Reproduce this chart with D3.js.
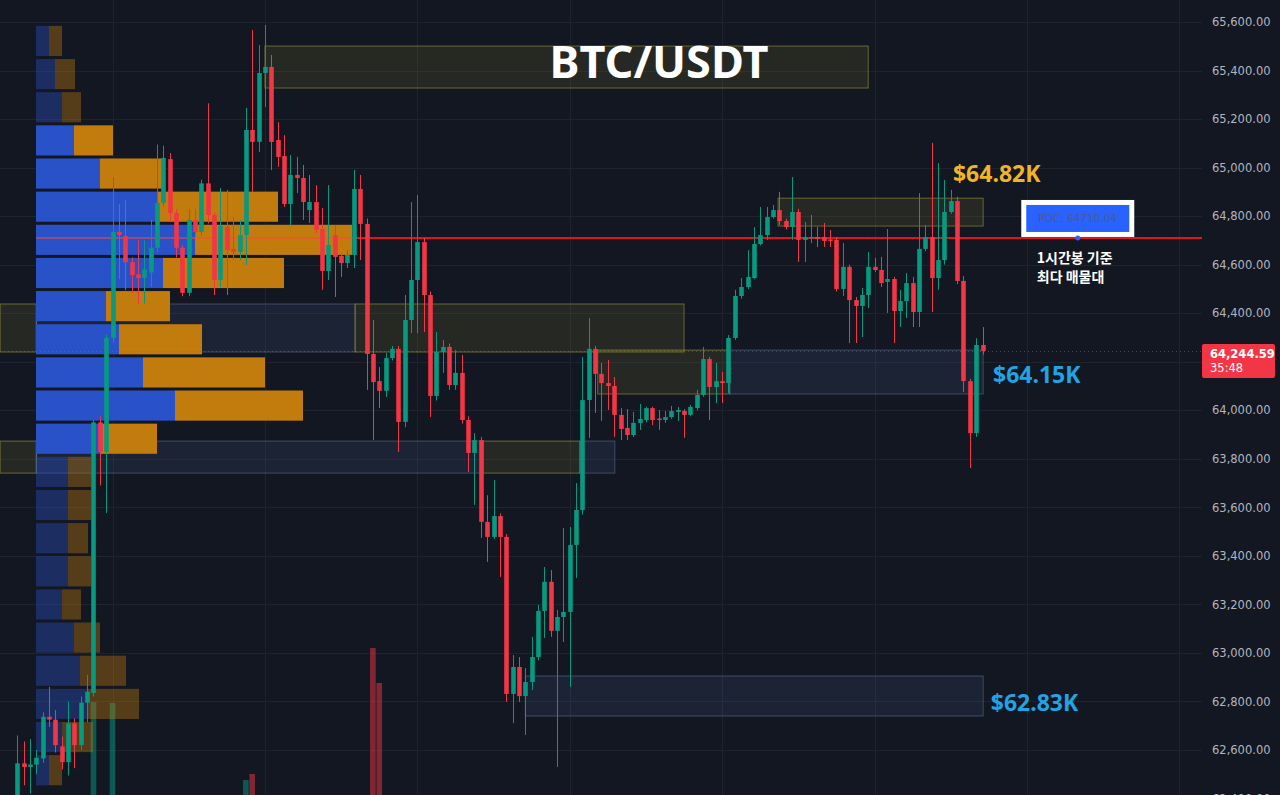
<!DOCTYPE html>
<html>
<head>
<meta charset="utf-8">
<script src="https://d3js.org/d3.v7.min.js"></script>
<style>
  body { margin: 0; background: #131722; }
  svg { display: block; }
  .axis text { font-family: "DejaVu Sans", sans-serif; font-size: 11.5px; fill: #b2b5be; }
  .grid { stroke: #1f2330; stroke-width: 1px; }
  .title { font-family: "Noto Sans", sans-serif; font-weight: 700; font-size: 45px; fill: #fff; }
  .tag { font-family: "Noto Sans", sans-serif; font-weight: 700; font-size: 23px; }
  .note { font-family: "Noto Sans CJK KR", sans-serif; font-weight: 700; font-size: 14px; fill: #fff; }
</style>
</head>
<body>
<svg id="chart"></svg>
<script>
  // 1h candles, BTC/USDT
  var open = [
    62380,62545,62530,62540,62565,62737,62725,62615,62550,62710,
    62620,62795,62835,63950,63828,64298,64735,64718,64610,64560,
    64545,64568,64670,64855,65035,64813,64670,64484,64785,64735,
    64935,64805,64537,64755,64665,64652,64722,65155,65106,65390,
    65415,65114,65048,64850,64970,64957,64825,64858,64747,64574,
    64722,64636,64607,64640,64912,64768,64232,64120,64080,64215,
    64253,63952,64372,64537,64693,64475,64059,64240,64261,64104,
    64154,63960,63824,63877,63540,63478,63564,63478,62831,62942,
    62822,62880,62983,63173,63293,63091,63148,63169,63445,63589,
    64042,64253,64150,64112,64100,63981,63927,63898,63948,63960,
    64009,63966,63960,63972,63993,63997,63981,64009,64063,64211,
    64096,64120,64112,64298,64471,64508,64545,64685,64722,64796,
    64825,64780,64755,64817,64702,64710,64714,64714,64704,64702,
    64500,64591,64454,64430,64475,64591,64578,64529,64541,64409,
    64450,64524,64405,64665,64714,64545,64619,64817,64862,64533,
    64120,63906,64269
  ];
  var high = [
    62660,62635,62645,62600,62755,62860,62765,62655,62800,62730,
    62820,62910,63960,63975,64310,64960,64850,64865,64630,64700,
    64700,64785,65095,65090,65060,64830,64680,64830,64830,64950,
    65265,64815,64916,64908,64796,64784,65246,65567,65505,65588,
    65464,65188,65134,65052,65044,65011,64970,64928,64833,64928,
    64763,64648,64660,64990,64970,64790,64372,64178,64236,64265,
    64265,64475,64858,64887,64710,64490,64322,64290,64275,64248,
    64228,63975,63906,63890,63650,63713,63575,63490,62991,62983,
    62938,63066,63198,63354,63342,63177,63515,63519,63700,64220,
    64380,64265,64195,64207,64137,64009,64005,63993,64026,64015,
    64015,64001,63997,64018,64014,64005,64022,64084,64261,64220,
    64195,64158,64310,64496,64545,64660,64755,64838,64838,64846,
    64900,64790,64961,64830,64776,64805,64755,64772,64743,64714,
    64689,64600,64467,64504,64652,64628,64632,64747,64550,64496,
    64566,64549,64895,64763,65102,65019,64949,64908,64880,64553,
    64130,64297,64343
  ];
  var low = [
    62330,62455,62420,62500,62547,62695,62590,62520,62495,62525,
    62600,62715,62820,63690,63577,64280,64540,64495,64483,64440,
    64440,64508,64650,64840,64775,64630,64470,64470,64715,64720,
    64770,64475,64508,64475,64619,64619,64599,64900,65064,65250,
    64990,65003,64838,64763,64895,64784,64772,64730,64496,64537,
    64467,64549,64586,64586,64619,64084,63877,64009,64055,64205,
    63828,63930,64318,64318,64322,63972,64040,64154,64084,64084,
    63945,63746,63610,63474,63375,63470,63313,62798,62711,62798,
    62662,62847,62970,63062,63066,62530,63045,62860,63309,63570,
    63886,63989,63956,64001,63890,63877,63877,63890,63919,63950,
    63939,63919,63948,63965,63956,63886,63975,64000,64055,63960,
    64030,64030,64071,64290,64460,64500,64540,64680,64702,64790,
    64763,64745,64702,64611,64611,64689,64673,64673,64673,64490,
    64471,64277,64277,64302,64421,64570,64508,64401,64277,64343,
    64380,64343,64343,64655,64405,64496,64600,64810,64520,64075,
    63762,63890,64230
  ];
  var close = [
    62545,62530,62540,62568,62737,62725,62620,62550,62710,62620,
    62795,62840,63950,63828,64298,64735,64722,64610,64557,64545,
    64580,64670,64855,65040,64813,64670,64484,64785,64735,64935,
    64805,64537,64760,64660,64652,64722,65155,65106,65390,65415,
    65106,65044,64850,64970,64957,64858,64858,64743,64574,64681,
    64632,64607,64640,64912,64768,64232,64116,64080,64215,64253,
    63952,64372,64537,64693,64475,64059,64240,64261,64104,64154,
    63960,63824,63877,63540,63478,63564,63478,62831,62942,62822,
    62880,62983,63173,63293,63091,63148,63169,63445,63589,64042,
    64253,64150,64112,64100,63981,63923,63898,63948,63964,64009,
    63960,63962,63972,63997,64001,63981,64014,64063,64211,64096,
    64120,64112,64298,64471,64508,64549,64685,64722,64796,64825,
    64780,64755,64817,64702,64714,64714,64706,64698,64700,64500,
    64591,64454,64430,64475,64591,64578,64524,64541,64409,64450,
    64524,64405,64665,64714,64545,64619,64817,64862,64533,64120,
    63906,64269,64244.59
  ];
  var volume = [
    40,35,30,30,55,40,45,35,50,40,
    55,50,300,170,185,299,120,90,70,60,
    60,70,110,100,95,80,90,100,60,95,
    120,110,90,80,60,60,222,228,190,160,
    170,110,120,100,80,90,70,90,110,90,
    80,50,50,120,100,180,354,319,150,60,
    190,180,120,120,130,170,110,60,90,60,
    100,110,80,150,100,90,110,195,150,120,
    90,100,130,110,100,120,110,140,120,180,
    160,90,60,50,70,60,40,40,35,40,
    40,30,30,35,30,40,35,50,110,90,
    50,40,120,110,60,60,90,80,70,60,
    70,50,90,90,60,40,40,40,30,120,
    90,100,50,70,90,40,60,80,100,60,
    60,80,150,70,180,130,120,80,170,190,
    170,160,60
  ];

  // volume profile, top bin first
  var profileTop = 65584;
  var profileBin = 136.6;
  var profileBuy  = [13,19,26,38,64,121,159,127,70,83,107,139,64,32,32,32,32,26,38,44,51,26,13];
  var profileSell = [13,20,19,39,63,121,157,121,64,83,122,128,57,23,23,20,23,19,26,46,52,31,13];
  var valueArea = [3, 12];

  var poc = 64710.04;
  var lastPrice = 64244.59;
  var countdown = '35:48';
  var priceTicks = [62400,62600,62800,63000,63200,63400,63600,63800,64000,64200,64400,64600,64800,65000,65200,65400,65600];
  var dayBreaks = [15, 39, 63, 87, 111, 135, 159, 183];

  // zones: candle index range and price range
  var zones = [
    {from: 39, to: 134, top: 65501, bottom: 65328, kind: 'y'},
    {from: 119.8, to: 152.1, top: 64874, bottom: 64759, kind: 'y'},
    {from: -2.7, to: 3, top: 64438, bottom: 64240, kind: 'y'},
    {from: 3, to: 53.2, top: 64438, bottom: 64240, kind: 'b'},
    {from: 53.2, to: 105, top: 64438, bottom: 64240, kind: 'y'},
    {from: 91.4, to: 112.2, top: 64248, bottom: 64067, kind: 'y'},
    {from: 112.2, to: 152.1, top: 64248, bottom: 64067, kind: 'b'},
    {from: -2.7, to: 3, top: 63873, bottom: 63741, kind: 'y'},
    {from: 3, to: 73.3, top: 63873, bottom: 63741, kind: 'b'},
    {from: 73.3, to: 88.6, top: 63873, bottom: 63741, kind: 'y'},
    {from: 88.6, to: 94.1, top: 63873, bottom: 63741, kind: 'b'},
    {from: 80, to: 152.1, top: 62905, bottom: 62740, kind: 'b'}
  ];
  var tags = [
    {text: '$64.82K', at: 147.35, price: 64941, color: '#f0b429'},
    {text: '$64.15K', at: 153.65, price: 64112, color: '#22a3e3'},
    {text: '$62.83K', at: 153.3, price: 62761, color: '#22a3e3'}
  ];

  var width = 1280, height = 795, plotRight = 1202;
  var up = '#089981', down = '#f23645';

  var svg = d3.select('#chart').attr('width', width).attr('height', height);
  svg.append('rect').attr('width', width).attr('height', height).attr('fill', '#131722');

  var x = d3.scaleLinear().domain([-2.72, 183.1]).range([0, 1180]);
  var y = d3.scaleLinear().domain([62414.5, 65690.7]).range([height, 0]);
  var yVol = d3.scaleLinear().domain([0, 400]).range([1002, 602]);

  // grid
  svg.append('g').selectAll('line').data(priceTicks).join('line')
    .attr('class', 'grid')
    .attr('x1', 0).attr('x2', plotRight)
    .attr('y1', function(d){ return Math.round(y(d)) + 0.5; })
    .attr('y2', function(d){ return Math.round(y(d)) + 0.5; });
  svg.append('g').selectAll('line').data(dayBreaks).join('line')
    .attr('class', 'grid')
    .attr('y1', 0).attr('y2', height)
    .attr('x1', function(d){ return Math.round(x(d)) + 0.5; })
    .attr('x2', function(d){ return Math.round(x(d)) + 0.5; });

  // zones
  svg.append('g').selectAll('rect').data(zones).join('rect')
    .attr('x', function(d){ return x(d.from); })
    .attr('width', function(d){ return x(d.to) - x(d.from); })
    .attr('y', function(d){ return y(d.top); })
    .attr('height', function(d){ return y(d.bottom) - y(d.top); })
    .attr('fill', function(d){ return d.kind == 'y' ? 'rgba(150,150,40,0.14)' : 'rgba(80,110,165,0.15)'; })
    .attr('stroke', function(d){ return d.kind == 'y' ? 'rgba(200,190,70,0.45)' : 'rgba(110,130,170,0.45)'; })
    .attr('stroke-width', 1);

  var bars = open.map(function(o, i){
    return {i: i, o: o, h: high[i], l: low[i], c: close[i], v: volume[i]};
  });

  // volume histogram (baseline sits below the visible area)
  svg.append('g').selectAll('rect').data(bars).join('rect')
    .attr('x', function(d){ return x(d.i) - 2.8; })
    .attr('width', 5.6)
    .attr('y', function(d){ return yVol(d.v); })
    .attr('height', function(d){ return Math.max(0, yVol(0) - yVol(d.v)); })
    .attr('fill', function(d){ return d.c >= d.o ? 'rgba(8,153,129,0.5)' : 'rgba(242,54,69,0.5)'; });

  // volume profile
  var profile = profileBuy.map(function(b, k){
    var hi = profileTop - k * profileBin;
    return {k: k, buy: b, sell: profileSell[k], hi: hi, lo: hi - profileBin,
            inVA: k >= valueArea[0] && k <= valueArea[1]};
  });
  var xp = d3.scaleLinear()
    .domain([0, d3.max(profile, function(d){ return d.buy + d.sell; })])
    .range([36, 352]);
  var rows = svg.append('g').selectAll('g').data(profile).join('g')
    .attr('opacity', function(d){ return d.inVA ? 1 : 0.38; });
  rows.append('rect')
    .attr('x', xp(0))
    .attr('y', function(d){ return y(d.hi); })
    .attr('width', function(d){ return xp(d.buy) - xp(0); })
    .attr('height', function(d){ return y(d.lo) - y(d.hi) - 3; })
    .attr('fill', '#2952c9');
  rows.append('rect')
    .attr('x', function(d){ return xp(d.buy); })
    .attr('y', function(d){ return y(d.hi); })
    .attr('width', function(d){ return xp(d.buy + d.sell) - xp(d.buy); })
    .attr('height', function(d){ return y(d.lo) - y(d.hi) - 3; })
    .attr('fill', '#c27c0e');

  var pocRow = profile.find(function(d){ return poc <= d.hi && poc > d.lo; });
  var pocEnd = xp(pocRow.buy + pocRow.sell);
  svg.append('line')
    .attr('x1', xp(0)).attr('x2', pocEnd)
    .attr('y1', y(poc)).attr('y2', y(poc))
    .attr('stroke', 'rgba(255,70,60,0.5)').attr('stroke-width', 2);
  svg.append('line')
    .attr('x1', pocEnd).attr('x2', plotRight)
    .attr('y1', y(poc)).attr('y2', y(poc))
    .attr('stroke', '#e3131e').attr('stroke-width', 2);

  // last price line
  svg.append('line')
    .attr('x1', 0).attr('x2', plotRight)
    .attr('y1', Math.round(y(lastPrice)) + 0.5).attr('y2', Math.round(y(lastPrice)) + 0.5)
    .attr('stroke', 'rgba(242,54,69,0.55)').attr('stroke-dasharray', '1 3');

  // candles
  var candle = svg.append('g').selectAll('g').data(bars).join('g');
  candle.append('line')
    .attr('x1', function(d){ return Math.round(x(d.i)) + 0.5; })
    .attr('x2', function(d){ return Math.round(x(d.i)) + 0.5; })
    .attr('y1', function(d){ return y(d.h); })
    .attr('y2', function(d){ return y(d.l); })
    .attr('stroke', function(d){ return d.c >= d.o ? up : down; })
    .attr('stroke-width', 1);
  candle.append('rect')
    .attr('x', function(d){ return Math.round(x(d.i)) - 1.8; })
    .attr('width', 4.6)
    .attr('y', function(d){ return y(Math.max(d.o, d.c)); })
    .attr('height', function(d){ return Math.max(1.5, Math.abs(y(d.o) - y(d.c))); })
    .attr('fill', function(d){ return d.c >= d.o ? up : down; });

  // title
  svg.append('text').attr('class', 'title')
    .attr('x', 659).attr('y', 78).attr('text-anchor', 'middle')
    .text('BTC/USDT');

  // price tags
  svg.append('g').selectAll('text').data(tags).join('text')
    .attr('class', 'tag')
    .attr('x', function(d){ return x(d.at); })
    .attr('y', function(d){ return y(d.price); })
    .attr('fill', function(d){ return d.color; })
    .text(function(d){ return d.text; });

  // POC label
  var pocX = x(167);
  var pocY = y(poc);
  svg.append('rect')
    .attr('x', pocX - 56.5).attr('y', pocY - 38)
    .attr('width', 113).attr('height', 37)
    .attr('fill', '#ffffff');
  svg.append('rect')
    .attr('x', pocX - 51.5).attr('y', pocY - 33)
    .attr('width', 103).attr('height', 27)
    .attr('fill', '#2962ff');
  svg.append('text')
    .attr('x', pocX).attr('y', pocY - 15.5)
    .attr('text-anchor', 'middle')
    .attr('font-family', 'DejaVu Sans, sans-serif').attr('font-size', 10.5)
    .attr('fill', '#4a5c8e')
    .text('POC: ' + d3.format('.2f')(poc));
  svg.append('circle')
    .attr('cx', pocX).attr('cy', pocY).attr('r', 2.5).attr('fill', '#2962ff');

  svg.append('text').attr('class', 'note')
    .attr('x', pocX - 41).attr('y', pocY + 25).text('1시간봉 기준');
  svg.append('text').attr('class', 'note')
    .attr('x', pocX - 41).attr('y', pocY + 44).text('최다 매물대');

  // price axis; the label under the last-price tag is hidden, as on the original
  var ly = y(lastPrice);
  var labelTicks = priceTicks.filter(function(d){ return Math.abs(y(d) - (ly + 10)) > 20; });
  var yAxis = d3.axisRight(y)
    .tickValues(labelTicks)
    .tickFormat(d3.format(',.2f'))
    .tickSize(0)
    .tickPadding(10);
  svg.append('g').attr('class', 'axis')
    .attr('transform', 'translate(' + plotRight + ',0)')
    .call(yAxis)
    .call(function(g){ g.select('.domain').remove(); });

  // last price label
  svg.append('rect')
    .attr('x', plotRight).attr('y', ly - 7)
    .attr('width', 73).attr('height', 34).attr('rx', 2)
    .attr('fill', down);
  svg.append('text')
    .attr('x', plotRight + 8).attr('y', ly + 7)
    .attr('font-family', 'DejaVu Sans, sans-serif').attr('font-size', 11.5)
    .attr('font-weight', 700).attr('fill', '#fff')
    .text(d3.format(',.2f')(lastPrice));
  svg.append('text')
    .attr('x', plotRight + 8).attr('y', ly + 21)
    .attr('font-family', 'DejaVu Sans, sans-serif').attr('font-size', 11.5)
    .attr('fill', '#fff')
    .text(countdown);
</script>
</body>
</html>
